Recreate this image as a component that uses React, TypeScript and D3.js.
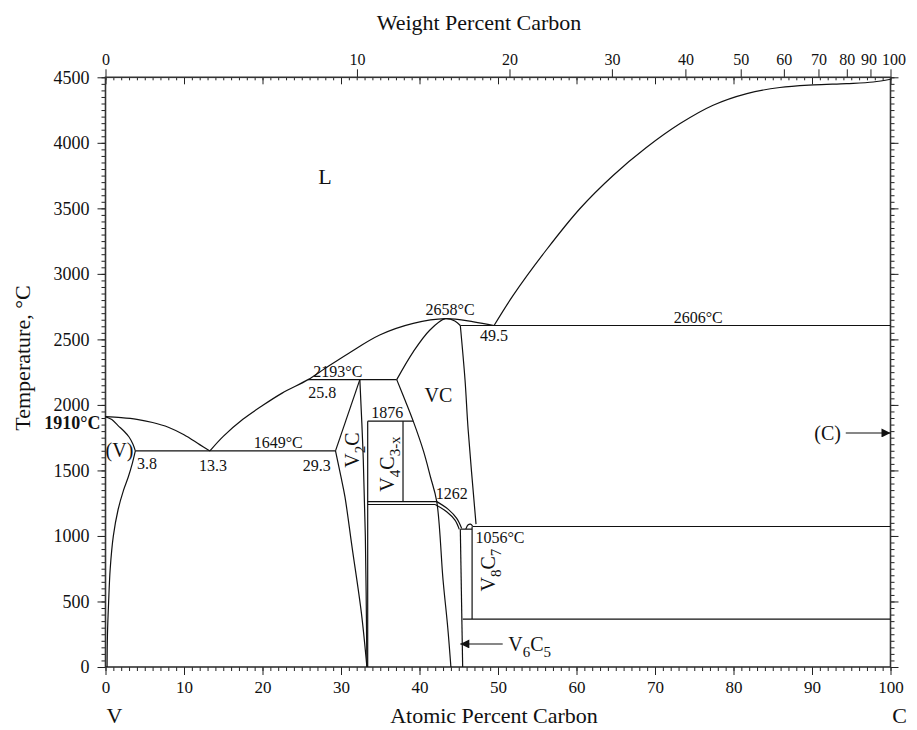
import React, { useEffect, useRef } from 'react';
import * as d3 from 'd3';

// phase boundaries, each point is [atomic percent C, temperature in °C]
const vLiquidus = [[0, 1910], [2, 1903], [4, 1890], [6, 1866], [8, 1830], [10, 1772], [12, 1697], [13.3, 1649]];
const vSolidus = [[0, 1910], [0.8, 1888], [1.6, 1842], [2.4, 1797], [3.0, 1755], [3.5, 1700], [3.8, 1649]];
const vSolvus = [[3.8, 1649], [3.4, 1550], [2.9, 1450], [2.3, 1350], [1.6, 1200], [1.0, 1000], [0.6, 750], [0.4, 500], [0.25, 250], [0.2, 0]];
const liquidus = [[13.3, 1649], [15, 1760], [17.5, 1890], [20, 1995], [22.5, 2090], [25.8, 2193], [28, 2280], [31, 2395], [35, 2535], [39.2, 2622], [43.3, 2658], [46.9, 2634], [49.5, 2606]];
const graphiteLiquidus = [[49.5, 2606], [51.95, 2838], [56.2, 3186], [60.45, 3499], [64.7, 3753], [68.9, 3964], [73.2, 4147], [77.4, 4287], [81.7, 4376], [85.9, 4422], [90.2, 4442], [94.4, 4452], [97.8, 4464], [100, 4485]];
const vcSolidus = [[37.1, 2193], [39.2, 2405], [41.3, 2570], [43.3, 2658], [44.5, 2641], [45.2, 2606]];
const v2cUpper = [[29.3, 1649], [32.4, 2193]];
const v2cLeft = [[29.3, 1649], [30.0, 1450], [30.5, 1300], [31.4, 918], [32.6, 411], [33.3, 0]];
const v2cRight = [[32.4, 2193], [32.8, 1649], [33.1, 1000], [33.3, 0]];
const vcLeft = [[37.1, 2193], [38.2, 2030], [39.2, 1876], [40.5, 1649], [41.4, 1450], [42.2, 1262], [43.0, 664], [43.6, 300], [44.0, 0]];
const vcRight = [[45.2, 2606], [45.8, 2190], [46.2, 1808], [47.2, 1090]];
const v6c5Upper = [[42.2, 1262], [43.67, 1203], [44.74, 1134], [45.37, 1058]];
const v6c5Lower = [[42.0, 1240], [43.46, 1185], [44.52, 1121], [45.07, 1050]];
const v6c5Left = [[45.2, 1052], [45.5, 0]];
const v8c7Hump = [[45.9, 1052], [46.2, 1085], [46.5, 1090], [46.8, 1072]];

const isotherms = [
  { from: 3.8, to: 29.3, t: 1649 },
  { from: 25.8, to: 37.1, t: 2193 },
  { from: 45.2, to: 100, t: 2606 },
  { from: 33.4, to: 39.2, t: 1876 },
  { from: 33.4, to: 42.2, t: 1262 },
  { from: 33.4, to: 42.0, t: 1240 },
  { from: 45.2, to: 46.7, t: 1052 },
  { from: 46.8, to: 100, t: 1072 },
  { from: 45.5, to: 100, t: 366 },
];
const verticals = [
  { at: 33.4, from: 0, to: 1876 },
  { at: 37.9, from: 1262, to: 1876 },
  { at: 46.7, from: 366, to: 1072 },
];

// annotations: text, atomic %, temperature
const numberLabels = [
  ['2658°C', 43.9, 2732],
  ['2606°C', 75.5, 2671],
  ['49.5', 49.5, 2534],
  ['2193°C', 29.6, 2259],
  ['25.8', 27.6, 2099],
  ['1876', 35.9, 1946],
  ['3.8', 5.3, 1557],
  ['13.3', 13.7, 1541],
  ['1649°C', 22.0, 1717],
  ['29.3', 26.9, 1541],
  ['1262', 44.1, 1328],
  ['1056°C', 50.25, 992],
];
const phaseLabels = [
  ['L', 27.96, 3747],
  ['VC', 42.4, 2076],
  ['(V)', 1.78, 1656],
];

const atTicks = d3.range(0, 101, 10);
const wtTicks = [0, 10, 20, 30, 40, 50, 60, 70, 80, 90, 100];
const tempTicks = d3.range(0, 4501, 500);

const serif = '"Liberation Serif", "Times New Roman", serif';

function atFromWt(w) {
  const c = w / 12.011;
  const v = (100 - w) / 50.9415;
  return (c / (c + v)) * 100;
}

function App() {
  const ref = useRef(null);

  useEffect(() => {
    document.body.style.margin = '0';
    const width = 917;
    const height = 730;
    const left = 105.5, right = 890.5, top = 77.3, bottom = 667;

    const x = d3.scaleLinear().domain([0, 100]).range([left, right]);
    const y = d3.scaleLinear().domain([0, 4500]).range([bottom, top]);

    const root = d3.select(ref.current);
    root.selectAll('*').remove();
    const svg = root
      .append('svg')
      .attr('width', width)
      .attr('height', height)
      .style('display', 'block')
      .style('font-family', serif);

    svg
      .append('defs')
      .append('marker')
      .attr('id', 'arrow')
      .attr('viewBox', '0 0 10 10')
      .attr('refX', 10)
      .attr('refY', 5)
      .attr('markerWidth', 14)
      .attr('markerHeight', 9)
      .attr('markerUnits', 'userSpaceOnUse')
      .attr('orient', 'auto')
      .append('path')
      .attr('d', 'M0,0L10,5L0,10z')
      .attr('fill', '#111');

    // axes
    const styleAxis = (g, labelSize) => {
      g.select('.domain').remove();
      g.selectAll('line').attr('stroke', '#222').attr('stroke-width', 1);
      g.selectAll('text')
        .attr('font-family', serif)
        .attr('font-size', labelSize)
        .attr('fill', '#111');
    };
    const fmt = d3.format('d');

    svg.append('g').attr('transform', `translate(0,${bottom})`)
      .call(d3.axisBottom(x).tickValues(d3.range(0, 101, 1)).tickSize(4).tickFormat(''))
      .call(g => styleAxis(g, 0));
    svg.append('g').attr('transform', `translate(0,${bottom})`)
      .call(d3.axisBottom(x).tickValues(atTicks).tickSize(8).tickPadding(6).tickFormat(fmt))
      .call(g => styleAxis(g, 17));

    svg.append('g').attr('transform', `translate(0,${top})`)
      .call(d3.axisBottom(x).tickValues(d3.range(0, 101, 1)).tickSize(3).tickFormat(''))
      .call(g => styleAxis(g, 0));
    svg.append('g').attr('transform', `translate(0,${top})`)
      .call(d3.axisBottom(x).tickValues(atTicks).tickSize(7).tickFormat(''))
      .call(g => styleAxis(g, 0));
    svg.append('g').attr('transform', `translate(0,${top})`)
      .call(d3.axisTop(x).tickValues(wtTicks.map(atFromWt)).tickSize(8).tickPadding(4)
        .tickFormat((d, i) => String(wtTicks[i])))
      .call(g => styleAxis(g, 16))
      .call(g => g.selectAll('text').attr('dx', (d, i) => (i === 9 ? -2 : i === 10 ? 3 : 0)));

    svg.append('g').attr('transform', `translate(${left},0)`)
      .call(d3.axisLeft(y).tickValues(d3.range(0, 4501, 50)).tickSize(4).tickFormat(''))
      .call(g => styleAxis(g, 0));
    svg.append('g').attr('transform', `translate(${left},0)`)
      .call(d3.axisLeft(y).tickValues(tempTicks).tickSize(8).tickPadding(8).tickFormat(fmt))
      .call(g => styleAxis(g, 18));
    svg.append('g').attr('transform', `translate(${right},0)`)
      .call(d3.axisRight(y).tickValues(d3.range(0, 4501, 50)).tickSize(4).tickFormat(''))
      .call(g => styleAxis(g, 0));
    svg.append('g').attr('transform', `translate(${right},0)`)
      .call(d3.axisRight(y).tickValues(tempTicks).tickSize(8).tickFormat(''))
      .call(g => styleAxis(g, 0));

    svg.append('rect')
      .attr('x', left).attr('y', top)
      .attr('width', right - left).attr('height', bottom - top)
      .attr('fill', 'none').attr('stroke', '#333').attr('stroke-width', 1.6);

    // phase boundaries
    const curve = d3.line().x(d => x(d[0])).y(d => y(d[1])).curve(d3.curveCatmullRom.alpha(0.5));
    const straight = d3.line().x(d => x(d[0])).y(d => y(d[1]));

    const plot = svg.append('g').attr('fill', 'none').attr('stroke', '#111').attr('stroke-width', 1.2);
    [vLiquidus, vSolidus, vSolvus, liquidus, graphiteLiquidus, vcSolidus, v2cLeft, v2cRight,
      vcLeft, vcRight, v6c5Upper, v6c5Lower, v8c7Hump].forEach(pts => {
      plot.append('path').attr('d', curve(pts));
    });
    [v2cUpper, v6c5Left].forEach(pts => plot.append('path').attr('d', straight(pts)));
    isotherms.forEach(d => plot.append('path').attr('d', straight([[d.from, d.t], [d.to, d.t]])));
    verticals.forEach(d => plot.append('path').attr('d', straight([[d.at, d.from], [d.at, d.to]])));

    // labels
    const txt = svg.append('g').attr('fill', '#111');
    numberLabels.forEach(([s, a, t]) => {
      txt.append('text').attr('x', x(a)).attr('y', y(t)).attr('dy', '0.35em')
        .attr('text-anchor', 'middle').attr('font-size', 16).text(s);
    });
    phaseLabels.forEach(([s, a, t]) => {
      txt.append('text').attr('x', x(a)).attr('y', y(t)).attr('dy', '0.35em')
        .attr('text-anchor', 'middle').attr('font-size', s === 'L' ? 22 : 20).text(s);
    });
    txt.append('text').attr('x', x(0) - 5).attr('y', y(1862)).attr('dy', '0.35em')
      .attr('text-anchor', 'end').attr('font-size', 18).attr('font-weight', 'bold').text('1910°C');

    const formula = (parts, a, t, rotate) => {
      const el = txt.append('text')
        .attr('transform', `translate(${x(a)},${y(t)})${rotate ? ' rotate(-90)' : ''}`)
        .attr('text-anchor', rotate ? 'middle' : 'start')
        .attr('dy', '0.35em')
        .attr('font-size', 20);
      let shifted = false;
      parts.forEach(([s, sub]) => {
        const span = el.append('tspan').text(s);
        if (sub && !shifted) { span.attr('dy', 6).attr('font-size', 15); shifted = true; }
        else if (sub) span.attr('font-size', 15);
        else if (shifted) { span.attr('dy', -6); shifted = false; }
      });
    };
    formula([['V', false], ['2', true], ['C', false]], 31.4, 1656, true);
    formula([['V', false], ['4', true], ['C', false], ['3-x', true]], 35.9, 1549, true);
    formula([['V', false], ['8', true], ['C', false], ['7', true]], 48.7, 740, true);
    formula([['V', false], ['6', true], ['C', false], ['5', true]], 51.3, 176, false);

    // arrows
    svg.append('path').attr('d', straight([[50.6, 176], [45.2, 176]]))
      .attr('stroke', '#111').attr('stroke-width', 1.1).attr('marker-end', 'url(#arrow)');
    svg.append('path').attr('d', straight([[94.3, 1786], [100, 1786]]))
      .attr('stroke', '#111').attr('stroke-width', 1.1).attr('marker-end', 'url(#arrow)');
    txt.append('text').attr('x', x(92.0)).attr('y', y(1786)).attr('dy', '0.35em')
      .attr('text-anchor', 'middle').attr('font-size', 20).text('(C)');

    // axis titles
    txt.append('text').attr('x', 479).attr('y', 30).attr('text-anchor', 'middle')
      .attr('font-size', 22).text('Weight Percent Carbon');
    txt.append('text').attr('x', 494).attr('y', 723).attr('text-anchor', 'middle')
      .attr('font-size', 22).text('Atomic Percent Carbon');
    txt.append('text').attr('x', x(0) + 9).attr('y', 723).attr('text-anchor', 'middle')
      .attr('font-size', 22).text('V');
    txt.append('text').attr('x', x(100) + 9).attr('y', 723).attr('text-anchor', 'middle')
      .attr('font-size', 22).text('C');
    txt.append('text').attr('transform', 'translate(30,358) rotate(-90)').attr('text-anchor', 'middle')
      .attr('font-size', 22).text('Temperature, °C');
  }, []);

  return <div className="phase-diagram" ref={ref} />;
}

export default App;
